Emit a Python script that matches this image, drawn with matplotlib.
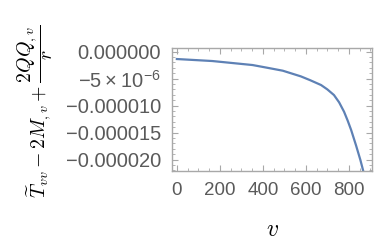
import matplotlib
matplotlib.use('Agg')
import matplotlib.pyplot as plt
from matplotlib.ticker import FixedLocator, FixedFormatter, MultipleLocator

# values (y in units of 1e-6)
v = [0, 165, 352, 420, 493, 577, 620, 671, 700, 731, 755, 778, 795, 811,
     834, 854, 866, 880]
y_e6 = [-1.39, -1.76, -2.50, -3.00, -3.55, -4.60, -5.30, -6.20, -7.00, -8.05,
        -9.40, -11.14, -12.80, -14.52, -17.40, -20.07, -21.90, -24.30]
y = [val * 1e-6 for val in y_e6]

yticks = [0, -5e-6, -10e-6, -15e-6, -20e-6]
ytick_labels = ['0.000000', r'$\mathregular{-5\times10^{-6}}$', '\u22120.000010',
                '\u22120.000015', '\u22120.000020']
xticks = [0, 200, 400, 600, 800]

plt.rcParams['font.family'] = ['Liberation Sans', 'DejaVu Sans']
plt.rcParams['mathtext.fontset'] = 'custom'
plt.rcParams['mathtext.rm'] = 'Liberation Sans'

frame_col = '#a8a8a8'
text_col = '#5a5a5a'

fig = plt.figure(figsize=(3.75, 2.5), dpi=100)
ax = fig.add_axes([0.459, 0.316, 0.533, 0.492])
ax.plot(v, y, color='#5E81B5', lw=1.6)

ax.set_xlim(-22, 908)
ax.set_ylim(-22.1e-6, 0.65e-6)

ax.xaxis.set_major_locator(FixedLocator(xticks))
ax.xaxis.set_minor_locator(MultipleLocator(50))
ax.yaxis.set_major_locator(FixedLocator(yticks))
ax.yaxis.set_major_formatter(FixedFormatter(ytick_labels))
ax.yaxis.set_minor_locator(MultipleLocator(1e-6))

ax.tick_params(which='both', direction='in', top=True, right=True,
               color=frame_col, labelcolor=text_col)
ax.tick_params(which='major', length=4, width=0.8)
ax.tick_params(which='minor', length=2, width=0.6)
ax.tick_params(axis='y', pad=8, labelsize=14.5)
ax.tick_params(axis='x', pad=8, labelsize=13.5)
for s in ax.spines.values():
    s.set_color(frame_col)
    s.set_linewidth(1.0)

ax.set_xlabel(r'$v$', fontsize=17, math_fontfamily='cm', labelpad=14)
ax.set_ylabel(r'$\widetilde{T}_{vv}-2M_{,v}+\dfrac{2QQ_{,v}}{r}$', fontsize=14.3,
              math_fontfamily='cm')
ax.yaxis.set_label_coords(-0.585, 0.48)

fig.savefig('out.png', dpi=100)
